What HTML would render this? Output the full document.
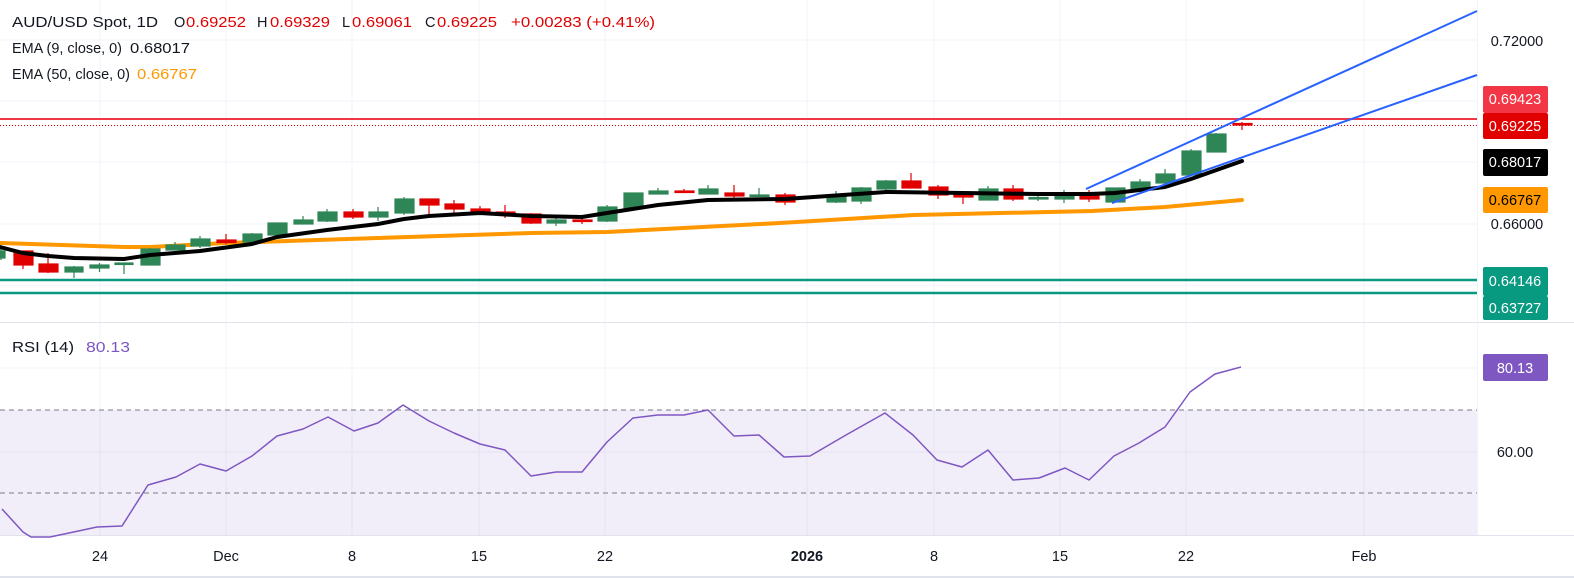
<!DOCTYPE html>
<html><head><meta charset="utf-8"><style>
html,body{margin:0;padding:0;background:#fff;}
svg{display:block;font-family:"Liberation Sans",sans-serif;}
</style></head><body>
<svg width="1574" height="578" viewBox="0 0 1574 578" xmlns="http://www.w3.org/2000/svg">
<rect width="1574" height="578" fill="#fff"/>
<!-- grid -->
<g stroke="#f0f3fa" stroke-width="1">
<line x1="0" y1="40" x2="1477" y2="40"/><line x1="0" y1="101" x2="1477" y2="101"/><line x1="0" y1="162" x2="1477" y2="162"/><line x1="0" y1="224" x2="1477" y2="224"/><line x1="0" y1="285" x2="1477" y2="285"/>
<line x1="0" y1="368" x2="1477" y2="368"/><line x1="0" y1="452" x2="1477" y2="452"/>
<line x1="100" y1="0" x2="100" y2="535"/><line x1="226" y1="0" x2="226" y2="535"/><line x1="352" y1="0" x2="352" y2="535"/><line x1="479" y1="0" x2="479" y2="535"/><line x1="605" y1="0" x2="605" y2="535"/><line x1="807" y1="0" x2="807" y2="535"/><line x1="934" y1="0" x2="934" y2="535"/><line x1="1060" y1="0" x2="1060" y2="535"/><line x1="1186" y1="0" x2="1186" y2="535"/><line x1="1364" y1="0" x2="1364" y2="535"/>
</g>
<line x1="0" y1="322.5" x2="1574" y2="322.5" stroke="#e0e3eb" stroke-width="1"/>
<line x1="1477.5" y1="0" x2="1477.5" y2="535" stroke="#f0f3fa"/>
<line x1="0" y1="535.5" x2="1574" y2="535.5" stroke="#e0e3eb"/>

<!-- horizontal levels -->
<line x1="0" y1="119" x2="1477" y2="119" stroke="#f23645" stroke-width="2"/>
<line x1="0" y1="125.5" x2="1477" y2="125.5" stroke="#e00000" stroke-width="1" stroke-dasharray="1,2"/>
<line x1="0" y1="280" x2="1477" y2="280" stroke="#089981" stroke-width="2.5"/>
<line x1="0" y1="293" x2="1477" y2="293" stroke="#089981" stroke-width="2.5"/>

<!-- EMA50 -->
<polyline fill="none" stroke="#ff9800" stroke-width="4" stroke-linejoin="round" stroke-linecap="round" points="0,243 124,247 150,247 226,243 378,238 531,233 607,232 780,223 914,215 1092,211 1165,207 1242,200"/>
<!-- candles -->
<g stroke-width="1.2">
<g stroke="#2e8555" fill="#2e8555">
<line x1="1" y1="248" x2="1" y2="260"/><rect x="-8" y="251" width="13" height="7"/>
<line x1="74" y1="266" x2="74" y2="278"/><rect x="65" y="267" width="18" height="5"/>
<line x1="99.5" y1="263" x2="99.5" y2="272"/><rect x="90" y="265" width="19" height="3"/>
<line x1="124" y1="263" x2="124" y2="274"/><rect x="115" y="263" width="18" height="1.5"/>
<line x1="150" y1="248" x2="150" y2="265"/><rect x="141" y="249" width="19" height="16"/>
<line x1="175" y1="242" x2="175" y2="250"/><rect x="166" y="245" width="19" height="5"/>
<line x1="200" y1="236" x2="200" y2="248"/><rect x="191" y="239" width="19" height="7"/>
<line x1="252" y1="233" x2="252" y2="243"/><rect x="243" y="234" width="19" height="8"/>
<line x1="277" y1="223" x2="277" y2="238"/><rect x="268" y="223" width="19" height="12"/>
<line x1="303" y1="216" x2="303" y2="224"/><rect x="294" y="220" width="19" height="4"/>
<line x1="327" y1="209" x2="327" y2="222"/><rect x="318" y="212" width="19" height="9"/>
<line x1="378" y1="207" x2="378" y2="221"/><rect x="369" y="212" width="19" height="5"/>
<line x1="404" y1="197" x2="404" y2="215"/><rect x="395" y="199" width="19" height="14"/>
<line x1="556" y1="215" x2="556" y2="226"/><rect x="547" y="220" width="19" height="3"/>
<line x1="607" y1="205" x2="607" y2="222"/><rect x="598" y="207" width="19" height="14"/>
<line x1="633" y1="193" x2="633" y2="208"/><rect x="624" y="193" width="19" height="15"/>
<line x1="658" y1="188" x2="658" y2="194"/><rect x="649" y="191" width="19" height="3"/>
<line x1="708" y1="185" x2="708" y2="194"/><rect x="699" y="189" width="19" height="5"/>
<line x1="759" y1="188" x2="759" y2="197"/><rect x="750" y="195" width="19" height="1.5"/>
<line x1="836" y1="191" x2="836" y2="203"/><rect x="827" y="195" width="19" height="7"/>
<line x1="861" y1="187" x2="861" y2="204"/><rect x="852" y="188" width="19" height="13"/>
<line x1="886" y1="180" x2="886" y2="191"/><rect x="877" y="181" width="19" height="8"/>
<line x1="988" y1="186" x2="988" y2="200"/><rect x="979" y="189" width="19" height="11"/>
<line x1="1038" y1="192" x2="1038" y2="201"/><rect x="1029" y="197.5" width="19" height="1.5"/>
<line x1="1064" y1="190" x2="1064" y2="203"/><rect x="1055" y="194" width="19" height="5"/>
<line x1="1115" y1="188" x2="1115" y2="203"/><rect x="1106" y="188" width="19" height="14"/>
<line x1="1140" y1="179" x2="1140" y2="190"/><rect x="1131" y="182" width="19" height="7"/>
<line x1="1165" y1="169" x2="1165" y2="184"/><rect x="1156" y="174" width="19" height="9"/>
<line x1="1191" y1="149" x2="1191" y2="176"/><rect x="1182" y="151" width="19" height="24"/>
<line x1="1216" y1="133" x2="1216" y2="152"/><rect x="1207" y="134" width="19" height="18"/>
</g>
<g stroke="#e00000" fill="#e00000">
<line x1="23" y1="251" x2="23" y2="269"/><rect x="14" y="251" width="19" height="14"/>
<line x1="48" y1="253" x2="48" y2="273"/><rect x="39" y="264" width="19" height="8"/>
<line x1="226" y1="234" x2="226" y2="244"/><rect x="217" y="240" width="19" height="2.5"/>
<line x1="353" y1="209" x2="353" y2="219"/><rect x="344" y="212" width="19" height="5"/>
<line x1="429" y1="199" x2="429" y2="215"/><rect x="420" y="199" width="19" height="6"/>
<line x1="454" y1="200" x2="454" y2="214"/><rect x="445" y="204" width="19" height="5"/>
<line x1="480" y1="206" x2="480" y2="213"/><rect x="471" y="209" width="19" height="3"/>
<line x1="505" y1="205" x2="505" y2="218"/><rect x="496" y="212" width="19" height="2"/>
<line x1="531" y1="213" x2="531" y2="224"/><rect x="522" y="214" width="19" height="9"/>
<line x1="582" y1="216" x2="582" y2="224"/><rect x="573" y="220" width="19" height="1.5"/>
<line x1="684" y1="189" x2="684" y2="193"/><rect x="675" y="191" width="19" height="1.5"/>
<line x1="734" y1="185" x2="734" y2="198"/><rect x="725" y="193" width="19" height="3"/>
<line x1="785" y1="193" x2="785" y2="205"/><rect x="776" y="195" width="19" height="7"/>
<line x1="911" y1="173" x2="911" y2="188"/><rect x="902" y="181" width="19" height="7"/>
<line x1="938" y1="185" x2="938" y2="199"/><rect x="929" y="187" width="19" height="8"/>
<line x1="963" y1="192" x2="963" y2="204"/><rect x="954" y="194" width="19" height="3"/>
<line x1="1013" y1="185" x2="1013" y2="201"/><rect x="1004" y="189" width="19" height="10"/>
<line x1="1089" y1="190" x2="1089" y2="202"/><rect x="1080" y="194" width="19" height="5"/>
<line x1="1242" y1="122" x2="1242" y2="130"/><rect x="1233" y="123.5" width="19" height="1.5"/>
</g>
</g>
<!-- EMA9 -->
<polyline fill="none" stroke="#000" stroke-width="4" stroke-linejoin="round" stroke-linecap="round" points="0,247 23,253 48,256 74,258 124,259 150,255 200,251 252,244 277,237 327,230 378,224 404,219 429,216 480,213 531,216 582,217 607,213 658,205 708,200 785,199 886,192 963,193 1038,194 1089,194 1115,193 1165,187 1191,179 1242,161"/>
<!-- channel -->
<line x1="1086" y1="189" x2="1477" y2="11" stroke="#2962ff" stroke-width="2"/>
<line x1="1112" y1="203" x2="1477" y2="75" stroke="#2962ff" stroke-width="2"/>

<!-- legend -->
<g font-size="14.5">
<text x="12" y="27" fill="#131722" textLength="146" lengthAdjust="spacingAndGlyphs">AUD/USD Spot, 1D</text>
<text x="174" y="27" fill="#131722">O</text><text x="186" y="27" fill="#e00000" textLength="60" lengthAdjust="spacingAndGlyphs">0.69252</text>
<text x="257" y="27" fill="#131722">H</text><text x="270" y="27" fill="#e00000" textLength="60" lengthAdjust="spacingAndGlyphs">0.69329</text>
<text x="342" y="27" fill="#131722">L</text><text x="352" y="27" fill="#e00000" textLength="60" lengthAdjust="spacingAndGlyphs">0.69061</text>
<text x="425" y="27" fill="#131722">C</text><text x="437" y="27" fill="#e00000" textLength="60" lengthAdjust="spacingAndGlyphs">0.69225</text>
<text x="511" y="27" fill="#e00000" textLength="144" lengthAdjust="spacingAndGlyphs">+0.00283 (+0.41%)</text>
<text x="12" y="53" fill="#131722" textLength="110" lengthAdjust="spacingAndGlyphs">EMA (9, close, 0)</text>
<text x="130" y="53" fill="#131722" textLength="60" lengthAdjust="spacingAndGlyphs">0.68017</text>
<text x="12" y="79" fill="#131722" textLength="118" lengthAdjust="spacingAndGlyphs">EMA (50, close, 0)</text>
<text x="137" y="79" fill="#ff9800" textLength="60" lengthAdjust="spacingAndGlyphs">0.66767</text>
<text x="12" y="352" fill="#131722" textLength="62" lengthAdjust="spacingAndGlyphs">RSI (14)</text>
<text x="86" y="352" fill="#7e57c2" textLength="44" lengthAdjust="spacingAndGlyphs">80.13</text>
</g>

<!-- RSI pane -->
<rect x="0" y="410" width="1477" height="125" fill="#7e57c2" fill-opacity="0.1"/>
<line x1="0" y1="410" x2="1477" y2="410" stroke="#787b86" stroke-dasharray="5,4"/>
<line x1="0" y1="493" x2="1477" y2="493" stroke="#787b86" stroke-dasharray="5,4"/>
<polyline fill="none" stroke="#7e57c2" stroke-width="1.5" stroke-linejoin="round" points="2,509 23,532 31,537 50,537 69,533 97,527 122,526 148,485 176,477 200,464 226,471 252,456 277,436 303,429 328,417 354,431 378,423 403,405 429,421 454,433 480,444 505,450 531,476 556,472 582,472 607,442 633,418 658,415 684,415 708,410 734,436 759,435 784,457 810,456 846,435 885,413 913,435 937,460 962,467 988,450 1013,480 1039,478 1065,468 1089,480 1114,456 1139,443 1165,427 1190,392 1215,374 1241,367"/>

<!-- price axis labels -->
<g font-size="14.5" text-anchor="middle">
<text x="1517" y="46" fill="#131722">0.72000</text>
<text x="1517" y="229" fill="#131722">0.66000</text>
<rect x="1483" y="86" width="65" height="27" rx="2" fill="#f23645"/><text x="1515" y="104" fill="#fff">0.69423</text>
<rect x="1483" y="113" width="65" height="26" rx="2" fill="#e00000"/><text x="1515" y="131" fill="#fff">0.69225</text>
<rect x="1483" y="149" width="65" height="27" rx="2" fill="#000"/><text x="1515" y="167" fill="#fff">0.68017</text>
<rect x="1483" y="187" width="65" height="26" rx="2" fill="#ff9800"/><text x="1515" y="205" fill="#000">0.66767</text>
<rect x="1483" y="267" width="65" height="29" rx="2" fill="#089981"/><text x="1515" y="286" fill="#fff">0.64146</text>
<rect x="1483" y="296" width="65" height="24" rx="2" fill="#089981"/><text x="1515" y="313" fill="#fff">0.63727</text>
<rect x="1483" y="354" width="65" height="27" rx="2" fill="#7e57c2"/><text x="1515" y="373" fill="#fff">80.13</text>
<text x="1515" y="457" fill="#131722">60.00</text>
</g>
<!-- time axis -->
<g font-size="14.5" text-anchor="middle" fill="#131722">
<text x="100" y="561">24</text><text x="226" y="561">Dec</text><text x="352" y="561">8</text><text x="479" y="561">15</text><text x="605" y="561">22</text>
<text x="807" y="561" font-weight="bold">2026</text><text x="934" y="561">8</text><text x="1060" y="561">15</text><text x="1186" y="561">22</text><text x="1364" y="561">Feb</text>
</g>
<line x1="0" y1="577" x2="1574" y2="577" stroke="#e0e3eb" stroke-width="2"/>
</svg>
</body></html>
